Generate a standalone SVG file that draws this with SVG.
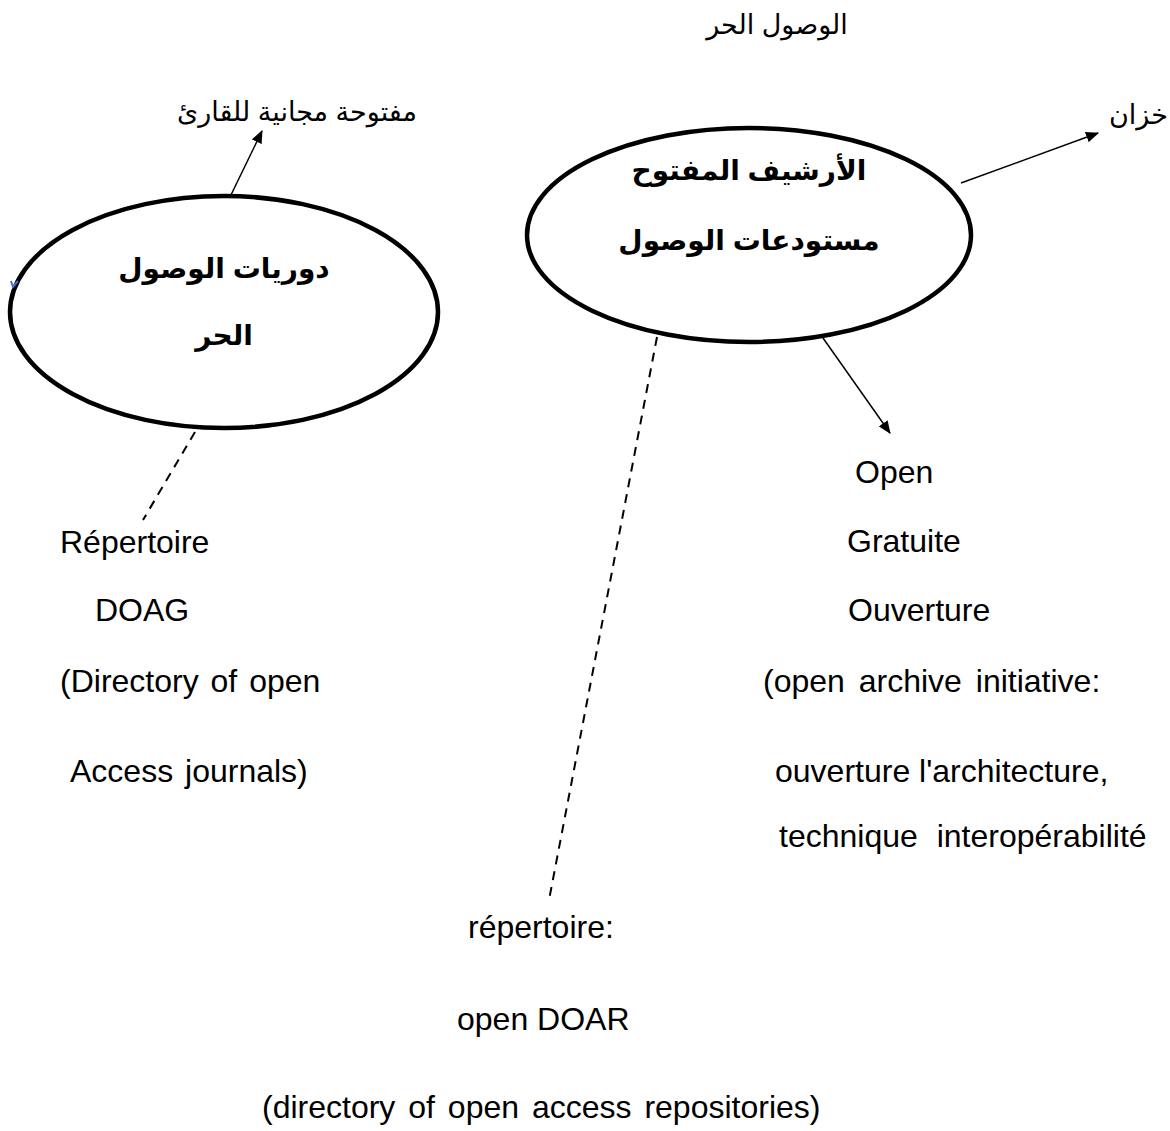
<svg xmlns="http://www.w3.org/2000/svg" width="1170" height="1131" viewBox="0 0 1170 1131">
<defs>
<marker id="ah" viewBox="0 0 12 10" refX="11" refY="5" markerWidth="13" markerHeight="11" markerUnits="userSpaceOnUse" orient="auto">
<path d="M0,0 L12,5 L0,10 Z" fill="#000"/>
</marker>
</defs>
<style>
.t{font-family:"Liberation Sans",Arial,sans-serif;font-size:32px;fill:#000}
.ar{font-family:"Liberation Sans","DejaVu Sans",sans-serif;font-size:27px;fill:#000}
.arb{font-family:"Liberation Sans","DejaVu Sans",sans-serif;font-size:28px;font-weight:bold;fill:#000}
.ell{fill:#fff;stroke:#000;stroke-width:4.5}
.c{stroke:#000;stroke-width:1.5;fill:none}
.d{stroke:#000;stroke-width:2;fill:none;stroke-dasharray:9,7}
</style>
<rect width="1170" height="1131" fill="#fff"/>
<g id="connectors">
<line class="c" x1="230" y1="197" x2="262" y2="131" marker-end="url(#ah)"/>
<line class="c" x1="961" y1="183" x2="1098" y2="133" marker-end="url(#ah)"/>
<line class="c" x1="823" y1="338" x2="890" y2="433" marker-end="url(#ah)"/>
<line class="d" x1="195" y1="432" x2="143" y2="520"/>
<line class="d" x1="657" y1="337" x2="549" y2="900"/>
</g>
<g id="title"><text class="ar" x="777" y="34" text-anchor="middle" direction="rtl">الوصول الحر</text></g>
<g id="node-journals">
<ellipse class="ell" cx="224" cy="312" rx="214" ry="116"/>
<text class="arb" x="224" y="278" text-anchor="middle" direction="rtl">دوريات الوصول</text>
<text class="arb" x="224" y="345" text-anchor="middle" direction="rtl">الحر</text>
<path d="M11,281 L13,287 L18,281" stroke="#4472C4" stroke-width="2" fill="none"/>
</g>
<g id="node-archive">
<ellipse class="ell" cx="749" cy="235" rx="222" ry="107"/>
<text class="arb" x="749" y="180" text-anchor="middle" direction="rtl">الأرشيف المفتوح</text>
<text class="arb" x="749" y="250" text-anchor="middle" direction="rtl">مستودعات الوصول</text>
</g>
<g id="label-free"><text class="ar" x="297" y="121" text-anchor="middle" direction="rtl">مفتوحة مجانية للقارئ</text></g>
<g id="label-store"><text class="ar" x="1109" y="124">خزان</text></g>
<g id="label-doag">
<text class="t" x="60" y="553">Répertoire</text>
<text class="t" x="95" y="621">DOAG</text>
<text class="t" x="60" y="692" word-spacing="3">(Directory of open</text>
<text class="t" x="70" y="782" word-spacing="3">Access journals)</text>
</g>
<g id="label-oai">
<text class="t" x="855" y="483">Open</text>
<text class="t" x="847" y="552">Gratuite</text>
<text class="t" x="848" y="621">Ouverture</text>
<text class="t" x="763" y="692" word-spacing="5">(open archive initiative:</text>
<text class="t" x="775" y="782">ouverture l'architecture,</text>
<text class="t" x="779" y="847" word-spacing="10">technique interopérabilité</text>
</g>
<g id="label-doar">
<text class="t" x="468" y="938">répertoire:</text>
<text class="t" x="457" y="1030">open DOAR</text>
<text class="t" x="262" y="1118" word-spacing="4">(directory of open access repositories)</text>
</g>
</svg>
